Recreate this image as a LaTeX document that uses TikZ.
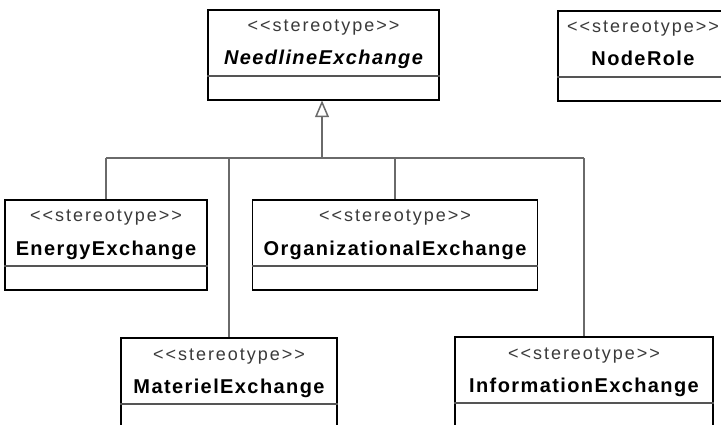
\documentclass[tikz,border=0pt]{standalone}
\usepackage{fontspec}
\setmainfont{Liberation Sans}
\newfontfamily\stereofont[LetterSpace=11]{Liberation Sans}
\newfontfamily\clsnamefont[LetterSpace=7]{Liberation Sans}
\definecolor{connc}{HTML}{6A6A6A}
\definecolor{sepc}{HTML}{555555}
\definecolor{stc}{HTML}{3A3A3A}
\tikzset{
  clsbox/.style={draw=black, line width=1.8pt, rectangle, inner sep=0pt, minimum height=90pt, fill=white},
  sepline/.style={draw=sepc, line width=1.4pt},
  stereo/.style={inner sep=0pt, text=stc, font=\stereofont\fontsize{18pt}{21pt}\selectfont},
  cname/.style={inner sep=0pt, text=black, font=\clsnamefont\bfseries\fontsize{20pt}{23pt}\selectfont},
  conn/.style={draw=connc, line width=1.5pt},
  genhead/.style={draw=connc, line width=1.5pt, fill=white, line join=miter},
}
\newcommand{\umlcls}[6]{%
  \node[clsbox, minimum width=#4pt] (#1) at (#2,#3+45) {};
  \draw[sepline] ([yshift=-67pt]#1.north west) -- ([yshift=-67pt]#1.north east);
  \node[stereo, anchor=base] (#1-s) at (#2,#3+22) {<<stereotype>>};
  \node[cname, anchor=base] (#1-n) at (#2,#3+55) {#6#5};
}
\begin{document}
\begin{tikzpicture}[x=1pt,y=-1pt]
\useasboundingbox (0,0) rectangle (721,425);
\clip (0,0) rectangle (721,425);
\fill[white] (0,0) rectangle (721,425);
\coordinate (hub) at (322,158);
\umlcls{need}{323.5}{10}{231}{NeedlineExchange}{\itshape}
\umlcls{role}{643}{11}{170}{NodeRole}{}
\umlcls{energy}{106}{200}{202}{EnergyExchange}{}
\umlcls{org}{395}{200}{285}{OrganizationalExchange}{}
\umlcls{mat}{229}{338}{216}{MaterielExchange}{}
\umlcls{info}{584}{337}{258}{InformationExchange}{}
\draw[conn] (energy.north |- hub) -- (info.north |- hub);
\draw[conn] (energy.north) -- (energy.north |- hub);
\draw[conn] (org.north) -- (org.north |- hub);
\draw[conn] (mat.north) -- (mat.north |- hub);
\draw[conn] (info.north) -- (info.north |- hub);
\coordinate (tip) at ([yshift=-1.5pt]hub |- need.south);
\draw[conn] (hub) -- ([yshift=-14pt]tip);
\draw[genhead] (tip) -- ++(-6,14) -- ++(12,0) -- cycle;
\end{tikzpicture}
\end{document}
